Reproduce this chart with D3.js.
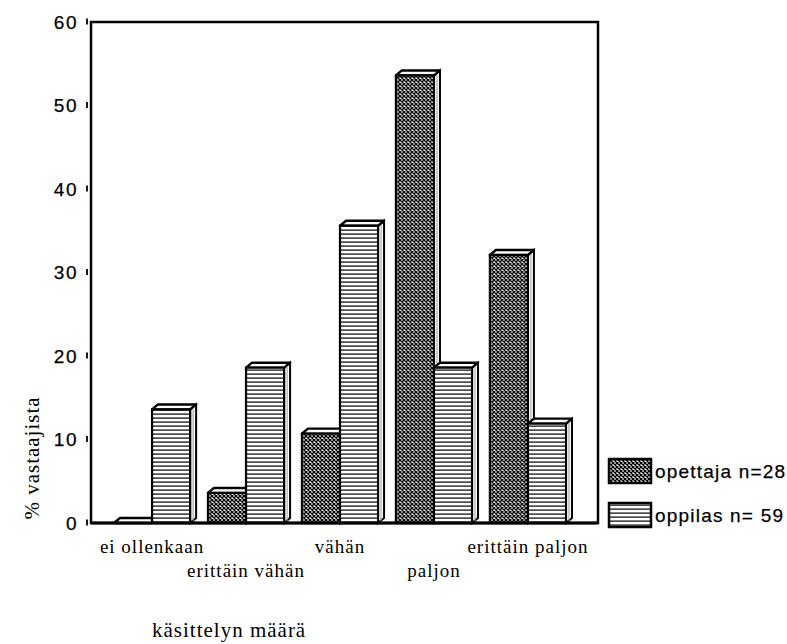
<!DOCTYPE html>
<html>
<head>
<meta charset="utf-8">
<script src="https://cdn.jsdelivr.net/npm/d3@7"></script>
<style>
body { margin: 0; background: #fff; }
svg { display: block; }
text.sans { stroke: #000; stroke-width: 0.25; }
</style>
</head>
<body>
<div id="chart"></div>
<script>
// data
const categories = ['ei ollenkaan', 'erittäin vähän', 'vähän', 'paljon', 'erittäin paljon'];
const series = ['opettaja n=28', 'oppilas n= 59'];
const opettaja = [0, 3.6, 10.7, 53.6, 32.1];
const oppilas = [13.6, 18.6, 35.6, 18.6, 11.9];
const yTicks = [0, 10, 20, 30, 40, 50, 60];

const width = 787, height = 644;
const frame = { left: 91, right: 598, top: 22, bottom: 523 };
const depthX = 6, depthY = 5;
const sans = '"Liberation Sans", Arial, sans-serif';
const serif = '"Liberation Serif", "Times New Roman", serif';

const svg = d3.select('#chart').append('svg')
	.attr('width', width)
	.attr('height', height);

const defs = svg.append('defs');

// crosshatch for opettaja
const cross = defs.append('pattern')
	.attr('id', 'cross')
	.attr('patternUnits', 'userSpaceOnUse')
	.attr('width', 4).attr('height', 4);
cross.append('rect').attr('width', 4).attr('height', 4).attr('fill', '#fff');
cross.append('path')
	.attr('d', 'M0,0 L4,4 M4,0 L0,4')
	.attr('stroke', '#000').attr('stroke-width', 1.3);

// horizontal lines for oppilas
const lines = defs.append('pattern')
	.attr('id', 'lines')
	.attr('patternUnits', 'userSpaceOnUse')
	.attr('width', 6).attr('height', 4);
lines.append('rect').attr('width', 6).attr('height', 4).attr('fill', '#fff');
lines.append('rect').attr('y', 1.5).attr('width', 6).attr('height', 1.2).attr('fill', '#000');

const fills = ['url(#cross)', 'url(#lines)'];

const x0 = d3.scaleBand()
	.domain(categories)
	.range([114, 566])
	.paddingInner(0.19)
	.paddingOuter(0);

const x1 = d3.scaleBand()
	.domain(series)
	.range([0, x0.bandwidth()]);

const y = d3.scaleLinear()
	.domain([0, 60])
	.range([frame.bottom, frame.top]);

// frame
svg.append('rect')
	.attr('x', frame.left)
	.attr('y', frame.top)
	.attr('width', frame.right - frame.left)
	.attr('height', frame.bottom - frame.top)
	.attr('fill', 'none')
	.attr('stroke', '#000')
	.attr('stroke-width', 2.5);

// y axis: labels and small tick marks
const yAxis = svg.append('g')
	.attr('transform', `translate(${frame.left - 4},0)`)
	.call(d3.axisLeft(y).tickValues(yTicks).tickSize(0).tickPadding(9));
yAxis.select('.domain').remove();
yAxis.selectAll('text')
	.attr('class', 'sans')
	.attr('font-family', sans)
	.attr('font-size', 19)
	.attr('letter-spacing', 1.5)
	.attr('fill', '#000');
yAxis.selectAll('.tick').append('line')
	.attr('x1', 0).attr('x2', 0)
	.attr('y1', -4).attr('y2', 2)
	.attr('stroke', '#000').attr('stroke-width', 1.8);

// bars
const rows = categories.map((c, i) => ({ cat: c, vals: [opettaja[i], oppilas[i]] }));

const groups = svg.selectAll('g.group')
	.data(rows)
	.join('g')
	.attr('class', 'group')
	.attr('transform', d => `translate(${x0(d.cat)},0)`);

groups.each(function (d) {
	const g = d3.select(this);
	d.vals.forEach((v, si) => {
		const bx = x1(series[si]);
		const bw = x1.bandwidth();
		const yt = y(v);
		const yb = y(0);

		// side face
		g.append('path')
			.attr('d', `M${bx + bw},${yt} L${bx + bw + depthX},${yt - depthY} L${bx + bw + depthX},${yb - depthY} L${bx + bw},${yb} Z`)
			.attr('fill', '#fff')
			.attr('stroke', '#000')
			.attr('stroke-width', 2);
		g.append('line')
			.attr('x1', bx + bw + depthX / 2).attr('x2', bx + bw + depthX / 2)
			.attr('y1', yt - depthY / 2 + 2).attr('y2', yb - 2)
			.attr('stroke', '#999').attr('stroke-width', 1);

		// top face
		g.append('path')
			.attr('d', `M${bx},${yt} L${bx + depthX},${yt - depthY} L${bx + bw + depthX},${yt - depthY} L${bx + bw},${yt} Z`)
			.attr('fill', '#fff')
			.attr('stroke', '#000')
			.attr('stroke-width', 2.4)
			.attr('stroke-linejoin', 'round');

		// front face
		if (v > 0) {
			g.append('rect')
				.attr('x', bx)
				.attr('y', yt)
				.attr('width', bw)
				.attr('height', yb - yt)
				.attr('fill', fills[si])
				.attr('stroke', '#000')
				.attr('stroke-width', 2.2);
		}
	});
});

// bottom axis line, heavier
svg.append('line')
	.attr('x1', frame.left).attr('x2', frame.right)
	.attr('y1', frame.bottom).attr('y2', frame.bottom)
	.attr('stroke', '#000').attr('stroke-width', 3);

// category labels, staggered on two rows
svg.selectAll('text.cat')
	.data(categories)
	.join('text')
	.attr('class', 'cat')
	.attr('x', d => x0(d) + x0.bandwidth() / 2)
	.attr('y', (d, i) => i % 2 == 0 ? 553 : 577)
	.attr('text-anchor', 'middle')
	.attr('font-family', serif)
	.attr('font-size', 19)
	.attr('letter-spacing', 1)
	.text(d => d);

// axis titles
svg.append('text')
	.attr('transform', 'translate(39,458) rotate(-90)')
	.attr('text-anchor', 'middle')
	.attr('font-family', serif)
	.attr('font-size', 21)
	.attr('letter-spacing', 1)
	.text('% vastaajista');

svg.append('text')
	.attr('x', 152)
	.attr('y', 637)
	.attr('font-family', serif)
	.attr('font-size', 21)
	.attr('letter-spacing', 1)
	.text('käsittelyn määrä');

// legend
const legend = svg.append('g')
	.attr('transform', 'translate(609,459)');

const items = legend.selectAll('g')
	.data(series)
	.join('g')
	.attr('transform', (d, i) => `translate(0,${i * 44})`);

items.append('rect')
	.attr('width', 42)
	.attr('height', 24)
	.attr('fill', (d, i) => fills[i])
	.attr('stroke', '#000')
	.attr('stroke-width', 2.5);

items.append('text')
	.attr('class', 'sans')
	.attr('x', 46)
	.attr('y', 19)
	.attr('font-family', sans)
	.attr('font-size', 19)
	.attr('letter-spacing', 1.2)
	.text(d => d);
</script>
</body>
</html>
